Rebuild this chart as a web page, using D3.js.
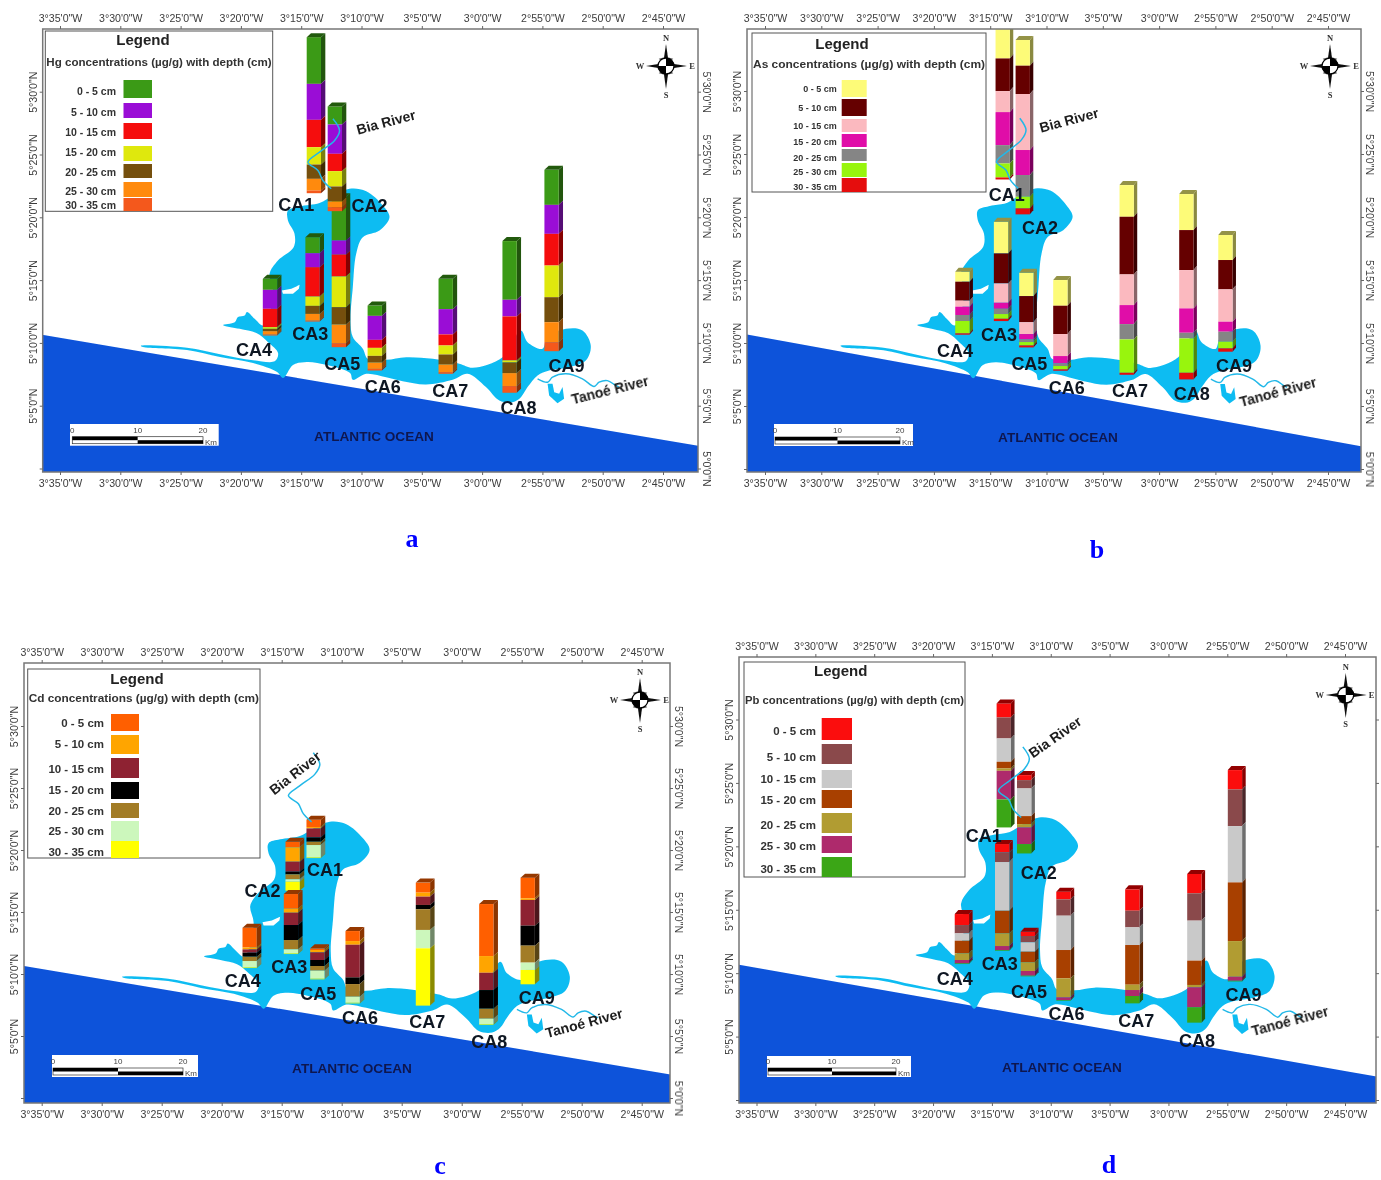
<!DOCTYPE html>
<html>
<head>
<meta charset="utf-8">
<style>
  html, body { margin: 0; background: #fff; }
  text { font-family: "Liberation Sans", Arial, sans-serif; }
</style>
</head>
<body>
<svg id="chart" width="1381" height="1180"></svg>
<script src="https://cdn.jsdelivr.net/npm/d3@7"></script>
<script>
const stations = ["CA1", "CA2", "CA3", "CA4", "CA5", "CA6", "CA7", "CA8", "CA9"];
const depths = ["0 - 5 cm", "5 - 10 cm", "10 - 15 cm", "15 - 20 cm", "20 - 25 cm", "25 - 30 cm", "30 - 35 cm"];
// CA5 sits behind CA2 on the Hg panel, so it goes down first
const drawOrder = [4, 0, 1, 2, 3, 5, 6, 7, 8];

const hgColors = ["#3a9a12", "#9a0fd6", "#f50a0a", "#dfe80e", "#74500a", "#ff8a0c", "#f4581a"];
const asColors = ["#fdfb78", "#650006", "#fbb9bf", "#e00aa8", "#858585", "#98f50e", "#e50b0b"];
const cdColors = ["#ff5f05", "#ffa505", "#8e2430", "#000000", "#a27c28", "#ccf7bc", "#ffff05"];
const pbColors = ["#fb0a0a", "#8a4a4c", "#c9c9c9", "#a83f02", "#b19c30", "#ae2a6c", "#3aa612"];

// layer thicknesses (top layer first), in arbitrary reading units
const hgValues = [
  [140, 108, 82, 52, 43, 35, 8],
  [54, 88, 52, 46, 45, 17, 12],
  [48, 42, 88, 28, 24, 20, 3],
  [33, 57, 55, 5, 7, 10, 3],
  [130, 42, 66, 92, 52, 56, 12],
  [31, 72, 24, 24, 20, 19, 5],
  [91, 76, 33, 27, 30, 23, 5],
  [176, 50, 132, 6, 32, 39, 20],
  [105, 87, 95, 95, 75, 60, 27]
];
const asValues = [
  [95, 98, 63, 99, 55, 42, 6],
  [77, 85, 168, 75, 65, 35, 18],
  [95, 90, 58, 18, 16, 14, 7],
  [30, 57, 18, 25, 18, 37, 4],
  [70, 78, 36, 16, 8, 10, 6],
  [77, 85, 66, 22, 8, 10, 4],
  [95, 173, 92, 57, 46, 100, 6],
  [108, 120, 115, 73, 17, 103, 20],
  [75, 88, 97, 30, 30, 20, 10]
];
const cdValues = [
  [22, 4, 27, 13, 10, 37, 2],
  [17, 43, 30, 8, 15, 7, 27],
  [44, 12, 37, 45, 28, 12, 2],
  [59, 6, 10, 12, 13, 19, 2],
  [5, 7, 23, 18, 14, 24, 2],
  [30, 11, 98, 20, 38, 18, 2],
  [30, 12, 25, 13, 62, 55, 172],
  [156, 50, 52, 56, 30, 16, 2],
  [62, 5, 77, 60, 51, 22, 43]
];
const pbValues = [
  [42, 63, 70, 20, 7, 86, 84],
  [15, 25, 83, 24, 10, 50, 28],
  [25, 29, 146, 68, 38, 12, 2],
  [33, 25, 22, 38, 20, 10, 2],
  [13, 19, 28, 32, 26, 14, 2],
  [23, 49, 103, 85, 57, 8, 2],
  [64, 50, 53, 119, 16, 18, 22],
  [58, 82, 120, 73, 7, 60, 46],
  [58, 110, 169, 176, 107, 12, 2]
];

// bar foot in arc minutes: west of Greenwich, north of the equator
const hgFootLon = [193.95, 192.21, 194.06, 197.59, 191.88, 188.90, 183.02, 177.72, 174.24];
const hgFootLat = [321.92, 320.49, 311.70, 310.59, 309.66, 307.80, 307.54, 306.03, 309.34];
const asFootLon = [193.89, 192.11, 194.04, 197.47, 191.79, 188.77, 182.88, 177.58, 174.11];
const asFootLat = [322.98, 320.21, 311.74, 310.66, 309.65, 307.80, 307.48, 307.11, 309.31];
const cdFootLon = [192.34, 194.09, 194.23, 197.67, 192.03, 189.09, 183.23, 177.95, 174.50];
const cdFootLat = [319.35, 316.72, 311.61, 310.48, 309.57, 307.63, 307.45, 305.91, 309.17];
const pbFootLon = [193.99, 192.26, 194.13, 197.55, 191.95, 188.92, 183.07, 177.80, 174.35];
const pbFootLat = [321.49, 319.44, 311.77, 310.72, 309.75, 307.83, 307.62, 306.10, 309.35];

// station name anchors
const hgNameLon = [195.41, 189.34, 194.25, 198.91, 191.60, 188.24, 182.63, 176.98, 173.00];
const hgNameLat = [321.02, 320.94, 310.72, 309.45, 308.39, 306.56, 306.21, 304.83, 308.20];
const asNameLon = [193.53, 190.57, 194.21, 198.12, 191.52, 188.20, 182.58, 177.10, 173.34];
const asNameLat = [321.82, 319.17, 310.71, 309.44, 308.38, 306.48, 306.21, 306.00, 308.25];
const cdNameLon = [191.39, 196.59, 194.37, 198.25, 191.95, 188.48, 182.87, 177.70, 173.75];
const cdNameLat = [318.44, 316.77, 310.64, 309.46, 308.44, 306.48, 306.13, 304.54, 308.12];
const pbNameLon = [195.69, 191.02, 194.33, 198.15, 191.84, 188.67, 182.73, 177.58, 173.62];
const pbNameLat = [320.88, 317.94, 310.77, 309.59, 308.54, 306.83, 306.23, 304.68, 308.28];

const lonTicks = [215, 210, 205, 200, 195, 190, 185, 180, 175, 170, 165];
const latTicks = [330, 325, 320, 315, 310, 305, 300];
const scaleTicks = [0, 10, 20];

// map geometry, arc minutes [west, north]
const lagoonOutline = [
  [201.48,311.43],[200.51,311.65],[200.24,312.06],[199.69,312.18],[199.50,312.46],[198.86,311.92],
  [198.17,311.39],[197.62,312.31],[197.34,314.17],[197.62,315.50],[196.93,316.56],[195.63,317.62],
  [195.55,318.68],[196.10,319.75],[196.10,320.54],[195.13,320.86],[193.48,321.13],[192.37,321.74],
  [190.99,322.27],[189.61,322.08],[188.23,320.94],[187.68,320.01],[188.51,318.95],[189.89,318.42],
  [190.44,317.09],[190.72,314.44],[190.91,311.78],[190.72,310.46],[189.89,309.53],[189.48,308.73],
  [187.96,308.65],[186.30,308.86],[184.09,308.73],[181.89,308.34],[180.78,308.02],[178.30,308.86],
  [176.78,310.99],[176.23,310.06],[174.99,309.53],[174.57,310.46],[173.05,311.12],[171.68,310.99],
  [170.99,309.79],[171.40,308.60],[172.78,308.07],[174.44,307.80],[175.40,307.41],[176.23,306.48],
  [176.78,305.68],[177.47,305.28],[178.57,305.41],[179.68,306.48],[181.20,307.54],[182.44,307.06],
  [184.65,306.69],[186.58,306.95],[187.96,307.27],[189.61,307.54],[190.72,307.06],[190.95,307.60],
  [192.86,308.24],[194.52,308.48],[195.68,308.24],[196.50,307.20],[197.00,307.68],[198.99,308.40],
  [201.73,308.88],[204.47,309.43],[208.12,309.67],[208.30,309.78],[204.47,309.62],[201.73,309.10],
  [198.99,308.62],[197.17,308.55],[196.92,309.20],[197.75,310.06],[198.72,310.78],[200.10,311.12]
];
const lagoonIsland = [[196.60,314.17],[195.82,314.31],[195.13,314.62],[195.19,314.31],[195.68,313.91],[196.51,313.91]];
const tanoeInlet = [[174.57,306.74],[174.44,305.81],[173.75,305.20],[173.20,305.55],[173.33,306.48],[173.61,305.95],[174.02,306.08],[174.16,306.74]];
const tanoeRiver = [[175.40,307.14],[174.57,306.87],[174.16,307.27],[173.05,307.54],[171.68,307.14],[170.71,306.53],[170.30,306.87],[169.61,307.00],[168.92,306.61],[168.64,306.48]];
const biaRiver = [[192.37,327.84],[191.82,326.91],[192.23,326.12],[193.48,325.19],[194.44,324.39],[193.61,323.73],[193.20,322.93],[192.51,322.27]];
const oceanShore = [[217.5,310.82],[160.0,301.47],[160.0,290.0],[217.5,290.0]];

const panels = [
  {
    metal: "Hg", letter: "a", colors: hgColors, values: hgValues,
    footLon: hgFootLon, footLat: hgFootLat, nameLon: hgNameLon, nameLat: hgNameLat,
    frame: [42.7, 29, 698, 472], lon: [60, 663], lat: [91.7, 468.5], side: 4.3, rightLabels: true,
    legend: { box: [45.3, 31, 272.7, 211.3], mid: 143, titleY: 45, subY: 66, swatch: [123.5, 152], labelX: 116, size: 10.5, textY: [95, 116, 136, 156, 176, 195, 209],
      rows: [[80, 98], [103, 118], [123, 139], [146, 161], [164, 178], [182, 197], [198, 211]] },
    compass: [666, 66], bar: { box: [70, 424, 218.7, 445.7], range: [72.3, 203], y: 436.7 },
    ocean: [374, 441], bia: [386, 122, -15], tanoe: [610, 390, -14], tag: [412, 547]
  },
  {
    metal: "As", letter: "b", colors: asColors, values: asValues,
    footLon: asFootLon, footLat: asFootLat, nameLon: asNameLon, nameLat: asNameLat,
    frame: [747, 29, 1361, 472], lon: [765, 1328], lat: [91, 469], side: 3.4, rightLabels: true,
    legend: { box: [752, 33, 986, 192], mid: 842, titleY: 49, subY: 68, swatch: [841.7, 866.7], labelX: 836.7, size: 9, textY: [92, 111, 129, 145, 161, 175, 190],
      rows: [[80, 97], [99, 116], [119, 132], [134, 147], [149, 161], [163, 177], [178, 192]] },
    compass: [1330, 66], bar: { box: [774, 424, 913, 446], range: [775, 900], y: 437 },
    ocean: [1058, 442], bia: [1069, 120, -15], tanoe: [1278, 392, -15], tag: [1097, 558]
  },
  {
    metal: "Cd", letter: "c", colors: cdColors, values: cdValues,
    footLon: cdFootLon, footLat: cdFootLat, nameLon: cdNameLon, nameLat: cdNameLat,
    frame: [24, 663, 670, 1103], lon: [41.7, 641.7], lat: [726, 1098], side: 4.5, rightLabels: true,
    legend: { box: [27.7, 669, 260, 858], mid: 137, titleY: 684, subY: 702, swatch: [111, 139], labelX: 104, size: 11.5, textY: [727, 748, 773, 794, 815, 835, 856],
      rows: [[714, 731], [735, 754], [758, 778], [782, 799], [803, 818], [821, 841], [841, 858]] },
    compass: [640, 700], bar: { box: [52, 1055, 198, 1077], range: [53, 183], y: 1068 },
    ocean: [352, 1073], bia: [295, 773, -38], tanoe: [584, 1023, -15], tag: [440, 1173.5]
  },
  {
    metal: "Pb", letter: "d", colors: pbColors, values: pbValues,
    footLon: pbFootLon, footLat: pbFootLat, nameLon: pbNameLon, nameLat: pbNameLat,
    frame: [739, 657, 1376, 1103], lon: [756.5, 1345], lat: [719.5, 1100], side: 3.6, rightLabels: false,
    legend: { box: [744, 662, 965, 877], mid: 840.7, titleY: 676, subY: 704, swatch: [821.7, 852], labelX: 816, size: 11.5, textY: [735, 761, 783, 804, 829, 850, 873],
      rows: [[718, 740], [744, 764], [770, 788], [790, 808], [813, 833], [836, 853], [857, 877]] },
    compass: [1345.7, 695], bar: { box: [767, 1056, 911, 1077], range: [768, 896], y: 1068 },
    ocean: [1062, 1072], bia: [1055, 737, -35], tanoe: [1290, 1021, -15], tag: [1109, 1173]
  }
];

const svg = d3.select("#chart");
const defs = svg.append("defs");
defs.append("filter").attr("id", "soft")
  .attr("x", 0).attr("y", 0).attr("width", 1).attr("height", 1)
  .append("feGaussianBlur").attr("stdDeviation", 0.4);
const root = svg.append("g").attr("filter", "url(#soft)");

const thickness = d3.scaleLinear().domain([0, 300]).range([0, 100]);
const barWidth = 14.3;
const capRise = 4;

function lonLabel(m) { return `${Math.floor(m / 60)}°${m % 60}'0"W`; }
function latLabel(m) { return `${Math.floor(m / 60)}°${m % 60}'0"N`; }

function styleAxis(g) {
  g.select(".domain").remove();
  g.selectAll("line").attr("stroke", "#666");
  g.selectAll("text").attr("fill", "#3c3c3c").attr("font-size", "10.6px").attr("font-family", '"Liberation Sans", Arial, sans-serif');
}

function drawBar(g, p, i, x, y) {
  const vals = p.values[i];
  // stack from the deepest layer upwards
  const tops = d3.cumsum(vals.slice().reverse()).reverse();
  const rows = vals.map((v, k) => ({ color: p.colors[k], top: thickness(tops[k]), h: thickness(v) }));
  const bar = g.append("g")
    .attr("class", "bar")
    .attr("transform", `translate(${x(p.footLon[i]) - barWidth / 2},${y(p.footLat[i])})`);

  bar.selectAll("path.side").data(rows).join("path")
    .attr("class", "side")
    .attr("fill", d => d3.color(d.color).darker(1.7))
    .attr("d", d => `M${barWidth},${-d.top}l${p.side},${-capRise}v${d.h}l${-p.side},${capRise}z`);

  bar.selectAll("rect").data(rows).join("rect")
    .attr("x", 0).attr("width", barWidth)
    .attr("y", d => -d.top).attr("height", d => d.h)
    .attr("fill", d => d.color);

  // dark lid on top
  const topH = rows[0].top;
  bar.append("path")
    .attr("fill", d3.color(rows[0].color).darker(1.5))
    .attr("d", `M0,${-topH}l${p.side},${-capRise}h${barWidth}l${-p.side},${capRise}z`);
}

function drawCompass(g, p) {
  const [cx, cy] = p.compass;
  const c = g.append("g").attr("transform", `translate(${cx},${cy})`);
  const arms = [[0, -22], [21, 0], [0, 23], [-20, 0]];
  c.selectAll("path.arm").data(arms).join("path")
    .attr("class", "arm")
    .attr("fill", "#111")
    .attr("d", d => {
      const nx = d[1] === 0 ? 0 : 3.2, ny = d[0] === 0 ? 0 : 3.2;
      return `M${nx},${ny}L${d[0]},${d[1]}L${-nx},${-ny}z`;
    });
  const diag = [[6, -6], [6, 6], [-6, 6], [-6, -6]];
  c.selectAll("path.diag").data(diag).join("path")
    .attr("class", "diag")
    .attr("fill", "#555")
    .attr("d", d => `M0,0L${d[0] * 1.2},${d[1] * 1.2}L${d[0] * 0.4},${d[1] * 1.4}z`);
  const arc = d3.arc().innerRadius(0).outerRadius(8);
  const quads = d3.range(4);
  c.selectAll("path.quad").data(quads).join("path")
    .attr("class", "quad")
    .attr("d", q => arc({ startAngle: q * Math.PI / 2, endAngle: (q + 1) * Math.PI / 2 }))
    .attr("fill", q => q % 2 === 0 ? "#000" : "#fff");
  c.append("circle").attr("r", 8).attr("fill", "none").attr("stroke", "#000").attr("stroke-width", 1.3);
  const letters = [["N", 0, -25], ["E", 26, 3], ["S", 0, 32], ["W", -26, 3]];
  c.selectAll("text").data(letters).join("text")
    .text(d => d[0])
    .attr("x", d => d[1]).attr("y", d => d[2])
    .attr("text-anchor", "middle")
    .attr("font-size", "8.5px")
    .attr("font-weight", 700)
    .style("font-family", '"Liberation Serif", serif')
    .attr("fill", "#333");
}

function drawScale(g, p) {
  const b = p.bar.box;
  const km = d3.scaleLinear().domain([0, 20]).range(p.bar.range);
  g.append("rect").attr("x", b[0]).attr("y", b[1])
    .attr("width", b[2] - b[0]).attr("height", b[3] - b[1]).attr("fill", "#fff");
  const y0 = p.bar.y;
  g.append("rect").attr("x", km(0)).attr("y", y0).attr("width", km(20) - km(0)).attr("height", 7)
    .attr("fill", "#fff").attr("stroke", "#333").attr("stroke-width", 0.7);
  g.append("rect").attr("x", km(0)).attr("y", y0).attr("width", km(10) - km(0)).attr("height", 3.5).attr("fill", "#000");
  g.append("rect").attr("x", km(10)).attr("y", y0 + 3.5).attr("width", km(20) - km(10)).attr("height", 3.5).attr("fill", "#000");
  g.selectAll("text.km").data(scaleTicks).join("text")
    .attr("class", "km")
    .text(d => d)
    .attr("x", d => km(d)).attr("y", y0 - 4)
    .attr("text-anchor", "middle")
    .attr("font-size", "8px").attr("fill", "#444");
  g.append("text").text("Km").attr("x", km(20) + 2).attr("y", y0 + 8)
    .attr("font-size", "8px").attr("fill", "#444");
}

function drawLegend(g, p) {
  const l = p.legend, b = l.box;
  g.append("rect").attr("x", b[0]).attr("y", b[1])
    .attr("width", b[2] - b[0]).attr("height", b[3] - b[1])
    .attr("fill", "#fff").attr("stroke", "#555").attr("stroke-width", 1);
  g.append("text").text("Legend")
    .attr("x", l.mid).attr("y", l.titleY)
    .attr("text-anchor", "middle").attr("font-size", "15px").attr("font-weight", 700).attr("fill", "#222");
  g.append("text").text(`${p.metal} concentrations (µg/g) with depth (cm)`)
    .attr("x", (b[0] + b[2]) / 2).attr("y", l.subY)
    .attr("text-anchor", "middle")
    .attr("textLength", b[2] - b[0] - 2).attr("lengthAdjust", "spacingAndGlyphs")
    .attr("font-size", "10.5px").attr("font-weight", 700).attr("fill", "#333");
  g.selectAll("rect.swatch").data(depths).join("rect")
    .attr("class", "swatch")
    .attr("x", l.swatch[0]).attr("width", l.swatch[1] - l.swatch[0])
    .attr("y", (d, k) => l.rows[k][0]).attr("height", (d, k) => l.rows[k][1] - l.rows[k][0])
    .attr("fill", (d, k) => p.colors[k]);
  g.selectAll("text.depth").data(depths).join("text")
    .attr("class", "depth")
    .text(d => d)
    .attr("x", l.labelX).attr("y", (d, k) => l.textY[k])
    .attr("text-anchor", "end")
    .attr("font-size", l.size + "px").attr("font-weight", 700).attr("fill", "#333");
}

panels.forEach((p, idx) => {
  const [fx0, fy0, fx1, fy1] = p.frame;
  const x = d3.scaleLinear().domain([215, 165]).range(p.lon);
  const y = d3.scaleLinear().domain([330, 300]).range(p.lat);
  const line = d3.line().x(d => x(d[0])).y(d => y(d[1]));
  const curve = d3.line().x(d => x(d[0])).y(d => y(d[1])).curve(d3.curveCatmullRom);
  const closed = d3.line().x(d => x(d[0])).y(d => y(d[1])).curve(d3.curveCatmullRomClosed.alpha(0.5));

  defs.append("clipPath").attr("id", "clip" + idx).append("rect")
    .attr("x", fx0).attr("y", fy0).attr("width", fx1 - fx0).attr("height", fy1 - fy0);

  const panel = root.append("g");
  const map = panel.append("g").attr("clip-path", `url(#clip${idx})`);

  map.append("path").attr("d", line(oceanShore) + "Z").attr("fill", "#0a52da");
  map.append("path").attr("d", closed(lagoonOutline)).attr("fill", "#0cbcf2");
  map.append("path").attr("d", line(lagoonIsland) + "Z").attr("fill", "#fff");
  map.append("path").attr("d", line(tanoeInlet) + "Z").attr("fill", "#0cbcf2");
  map.append("path").attr("d", curve(tanoeRiver)).attr("fill", "none").attr("stroke", "#22b8e8").attr("stroke-width", 1.4);

  drawOrder.forEach(i => drawBar(map, p, i, x, y));

  map.append("path").attr("d", curve(biaRiver)).attr("fill", "none").attr("stroke", "#22b8e8").attr("stroke-width", 1.5);

  // frame and graticule labels
  panel.append("rect").attr("x", fx0).attr("y", fy0)
    .attr("width", fx1 - fx0).attr("height", fy1 - fy0)
    .attr("fill", "none").attr("stroke", "#777").attr("stroke-width", 1.5);

  panel.append("g").attr("transform", `translate(0,${fy0})`)
    .call(d3.axisTop(x).tickValues(lonTicks).tickFormat(lonLabel).tickSize(3).tickPadding(4))
    .call(styleAxis);
  panel.append("g").attr("transform", `translate(0,${fy1})`)
    .call(d3.axisBottom(x).tickValues(lonTicks).tickFormat(lonLabel).tickSize(3).tickPadding(4))
    .call(styleAxis);

  const leftAxis = panel.append("g").attr("transform", `translate(${fx0},0)`)
    .call(d3.axisLeft(y).tickValues(latTicks).tickFormat(d => d === 300 ? "" : latLabel(d)).tickSize(3))
    .call(styleAxis);
  leftAxis.selectAll("text")
    .attr("transform", "rotate(-90)")
    .attr("x", 0).attr("y", -6).attr("dy", 0)
    .attr("text-anchor", "middle");

  const rightAxis = panel.append("g").attr("transform", `translate(${fx1},0)`)
    .call(d3.axisRight(y).tickValues(latTicks).tickFormat(d => p.rightLabels ? latLabel(d) : "").tickSize(3))
    .call(styleAxis);
  rightAxis.selectAll("text")
    .attr("transform", "rotate(90)")
    .attr("x", 0).attr("y", -5).attr("dy", 0)
    .attr("text-anchor", "middle");

  drawLegend(panel, p);
  drawCompass(panel, p);
  drawScale(panel, p);

  panel.selectAll("text.station").data(stations).join("text")
    .attr("class", "station")
    .text(d => d)
    .attr("x", (d, i) => x(p.nameLon[i]))
    .attr("y", (d, i) => y(p.nameLat[i]) + 6.5)
    .attr("text-anchor", "middle")
    .attr("font-size", "18px").attr("font-weight", 700).attr("fill", "#0e1622");

  const riverText = [["Bia River", p.bia], ["Tanoé River", p.tanoe]];
  panel.selectAll("text.river").data(riverText).join("text")
    .attr("class", "river")
    .text(d => d[0])
    .attr("transform", d => `translate(${d[1][0]},${d[1][1]}) rotate(${d[1][2]})`)
    .attr("text-anchor", "middle").attr("dy", 5)
    .attr("font-size", "14px").attr("font-weight", 700).attr("fill", "#1c1c1c");

  panel.append("text").text("ATLANTIC OCEAN")
    .attr("x", p.ocean[0]).attr("y", p.ocean[1])
    .attr("text-anchor", "middle")
    .attr("font-size", "13.6px").attr("font-weight", 700).attr("fill", "#08194f");

  panel.append("text").text(p.letter)
    .attr("x", p.tag[0]).attr("y", p.tag[1])
    .attr("text-anchor", "middle")
    .style("font-family", '"Liberation Serif", serif')
    .attr("font-size", "26px").attr("font-weight", 700).attr("fill", "#0000ff");
});
</script>
</body>
</html>
